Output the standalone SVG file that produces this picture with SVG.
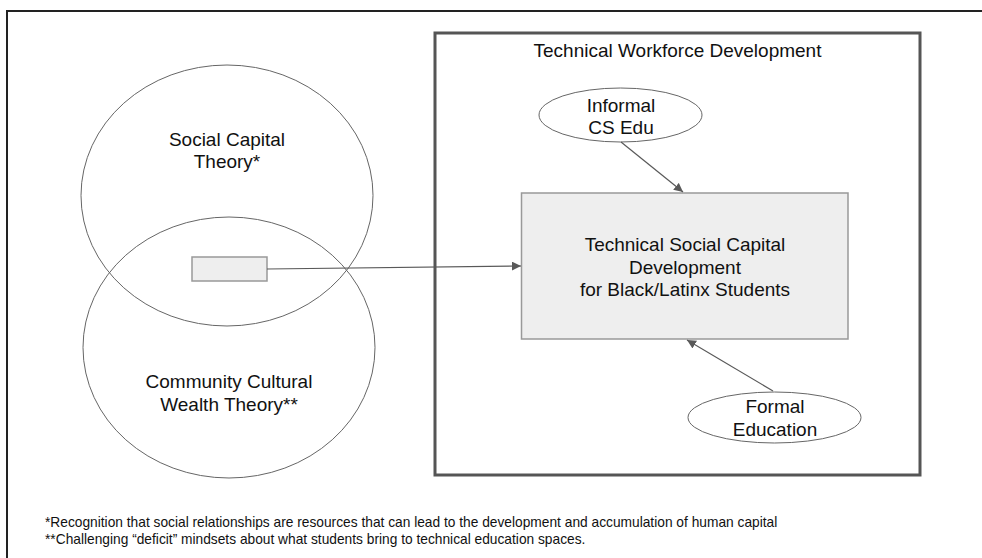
<svg xmlns="http://www.w3.org/2000/svg" width="982" height="558" viewBox="0 0 982 558">
  <style>
    .lbl { font-family: "Liberation Sans", Arial, sans-serif; font-size: 19px; fill: #111; text-anchor: middle; }
    .title { font-family: "Liberation Sans", Arial, sans-serif; font-size: 19px; fill: #111; text-anchor: middle; }
    .note { font-family: "Liberation Sans", Arial, sans-serif; font-size: 13.75px; fill: #111; }
    .venn { fill: none; stroke: #666; stroke-width: 1; }
    .oval { fill: #fff; stroke: #666; stroke-width: 1; }
    .box { fill: #eeeeee; stroke: #999; stroke-width: 1.5; }
    .edge { fill: none; stroke: #595959; stroke-width: 1.2; marker-end: url(#arrow); }
  </style>
  <defs>
    <marker id="arrow" viewBox="0 0 10 10" refX="10" refY="5" markerWidth="9" markerHeight="9" markerUnits="userSpaceOnUse" orient="auto">
      <path d="M0,0 L10,5 L0,10 z" fill="#595959"/>
    </marker>
  </defs>

  <rect width="982" height="558" fill="#fff"/>

  <!-- page frame -->
  <rect id="frame" x="7" y="11" width="1000" height="600" fill="none" stroke="#222" stroke-width="2"/>

  <!-- Venn diagram of the two theories -->
  <g id="social-capital">
    <ellipse class="venn" cx="227" cy="195.5" rx="146" ry="130.5"/>
    <text class="lbl" x="227" y="146">Social Capital</text>
    <text class="lbl" x="227" y="168">Theory*</text>
  </g>
  <g id="community-wealth">
    <ellipse class="venn" cx="229" cy="347.5" rx="146" ry="130.5"/>
    <text class="lbl" x="229" y="388">Community Cultural</text>
    <text class="lbl" x="229" y="411">Wealth Theory**</text>
  </g>
  <g id="overlap">
    <rect class="box" x="192" y="257" width="75" height="24" stroke-width="1.3"/>
  </g>

  <!-- workforce development container -->
  <g id="workforce">
    <rect x="435" y="33" width="485" height="442" fill="none" stroke="#555" stroke-width="3"/>
    <text class="title" x="677.5" y="57">Technical Workforce Development</text>
  </g>

  <g id="informal">
    <ellipse class="oval" cx="620.5" cy="115" rx="81.5" ry="27"/>
    <text class="lbl" x="621" y="112">Informal</text>
    <text class="lbl" x="621" y="133.5">CS Edu</text>
  </g>

  <g id="tsc">
    <rect class="box" x="521.5" y="193" width="326.5" height="146"/>
    <text class="lbl" x="685" y="251">Technical Social Capital</text>
    <text class="lbl" x="685" y="273.5">Development</text>
    <text class="lbl" x="685" y="296">for Black/Latinx Students</text>
  </g>

  <g id="formal">
    <ellipse class="oval" cx="774.5" cy="417.5" rx="86.5" ry="25.5"/>
    <text class="lbl" x="775" y="413">Formal</text>
    <text class="lbl" x="775" y="436">Education</text>
  </g>

  <!-- connectors -->
  <g id="edges">
    <line class="edge" x1="267" y1="269" x2="521" y2="266"/>
    <line class="edge" x1="621" y1="142" x2="683" y2="192"/>
    <line class="edge" x1="773" y1="391" x2="687" y2="340"/>
  </g>

  <!-- footnotes -->
  <g id="notes">
    <text class="note" x="45" y="527">*Recognition that social relationships are resources that can lead to the development and accumulation of human capital</text>
    <text class="note" x="45" y="544">**Challenging “deficit” mindsets about what students bring to technical education spaces.</text>
  </g>
</svg>
